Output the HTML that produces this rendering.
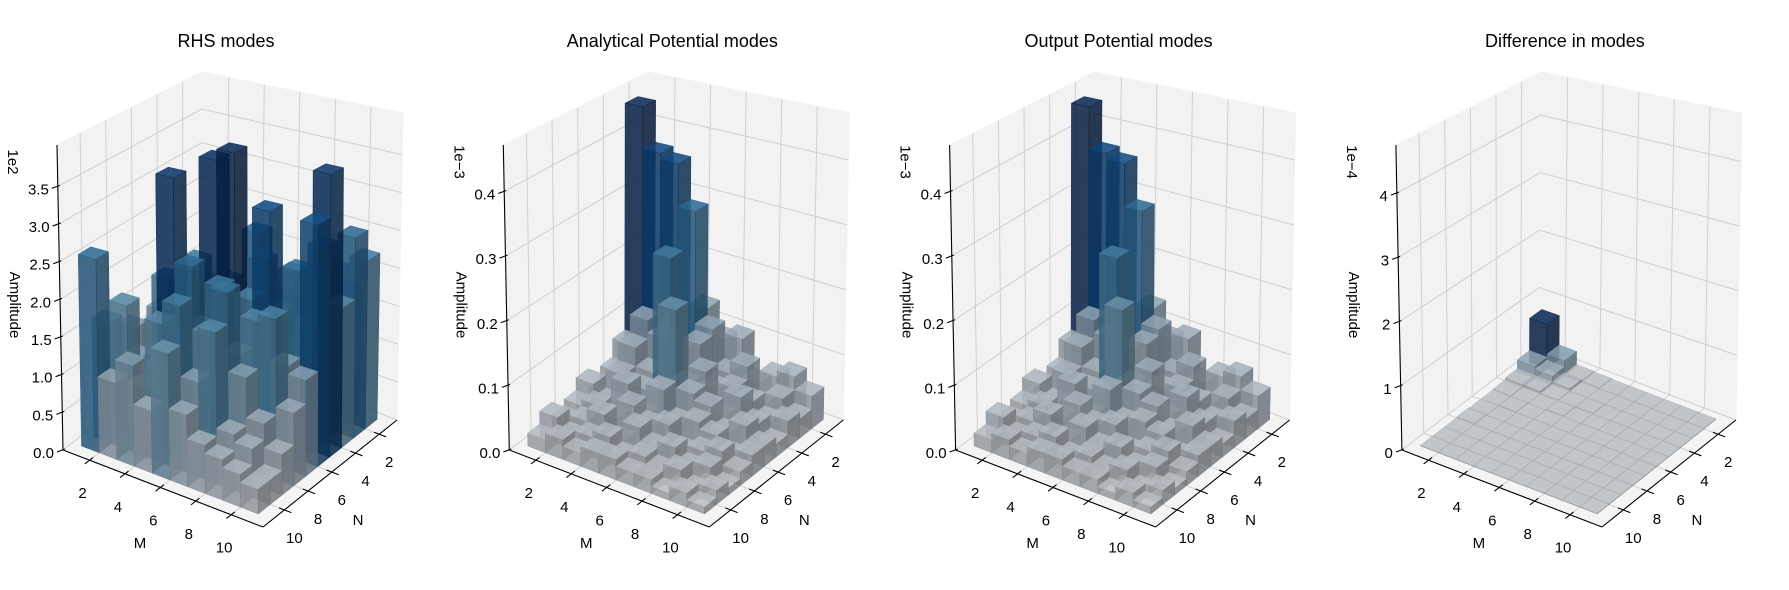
<!DOCTYPE html>
<html><head><meta charset="utf-8">
<style>
body{margin:0;background:#fff;}
svg{display:block;font-family:"Liberation Sans","DejaVu Sans",sans-serif;}
</style></head>
<body>
<svg id="fig" width="1789" height="590" viewBox="0 0 1789 590" xmlns="http://www.w3.org/2000/svg"></svg>
<script>
const mCats=[1,2,3,4,5,6,7,8,9,10];
const nCats=[1,2,3,4,5,6,7,8,9,10];
const axisTicks=[2,4,6,8,10];
const titles=["RHS modes","Analytical Potential modes","Output Potential modes","Difference in modes"];
const scaleLabels=["1e2","1e\u22123","1e\u22123","1e\u22124"];
const zMaxes=[4.05,0.472,0.472,4.75];
const zTicks1=[0,0.5,1,1.5,2,2.5,3,3.5];
const zTickLabels1=["0.0","0.5","1.0","1.5","2.0","2.5","3.0","3.5"];
const zTicks2=[0,0.1,0.2,0.3,0.4];
const zTickLabels2=["0.0","0.1","0.2","0.3","0.4"];
const zTicks4=[0,1,2,3,4];
const zTickLabels4=["0","1","2","3","4"];
// values[m][n]
const rhsVals=[
[1.2,0.9,1.5,0.8,1.1,0.7,1.3,0.9,1.6,2.55],
[0.8,1.4,0.6,1.2,0.9,1.5,0.7,1.1,1.9,1.0],
[1.1,0.7,1.3,0.9,1.6,0.8,2.1,1.0,0.9,1.3],
[0.9,1.2,0.8,1.5,1.0,2.3,1.2,3.6,1.8,0.8],
[1.3,0.8,1.4,1.1,2.0,3.7,1.6,2.5,2.1,1.6],
[0.7,1.5,1.0,2.6,1.3,3.85,2.2,1.7,1.2,0.9],
[1.4,0.9,1.7,1.2,2.4,2.0,1.4,2.3,1.9,0.6],
[1.0,1.6,1.2,2.2,1.8,3.2,1.9,1.3,0.7,0.5],
[1.7,2.1,2.5,1.6,2.4,1.3,2.0,0.8,0.6,0.4],
[2.2,2.6,1.8,3.6,3.05,1.2,0.9,0.5,0.3,0.3]];
const anaVals=[
[0.06,0.45,0.07,0.04,0.02,0.05,0.03,0.02,0.04,0.02],
[0.05,0.38,0.12,0.09,0.06,0.03,0.04,0.03,0.02,0.03],
[0.08,0.37,0.10,0.06,0.05,0.07,0.03,0.05,0.03,0.02],
[0.13,0.30,0.09,0.25,0.05,0.03,0.06,0.02,0.04,0.03],
[0.09,0.12,0.11,0.06,0.19,0.08,0.04,0.05,0.02,0.03],
[0.10,0.06,0.05,0.09,0.07,0.04,0.05,0.03,0.03,0.02],
[0.04,0.08,0.06,0.03,0.06,0.05,0.02,0.04,0.02,0.02],
[0.06,0.03,0.05,0.07,0.03,0.04,0.03,0.02,0.03,0.01],
[0.07,0.05,0.03,0.04,0.05,0.02,0.04,0.03,0.01,0.02],
[0.05,0.03,0.04,0.02,0.03,0.03,0.02,0.01,0.02,0.01]];
const outVals=[
[0.06,0.45,0.07,0.04,0.02,0.05,0.03,0.02,0.04,0.02],
[0.05,0.38,0.12,0.09,0.06,0.03,0.04,0.03,0.02,0.03],
[0.08,0.37,0.10,0.06,0.05,0.07,0.03,0.05,0.03,0.02],
[0.13,0.30,0.09,0.25,0.05,0.03,0.06,0.02,0.04,0.03],
[0.09,0.12,0.11,0.06,0.19,0.08,0.04,0.05,0.02,0.03],
[0.10,0.06,0.05,0.09,0.07,0.04,0.05,0.03,0.03,0.02],
[0.04,0.08,0.06,0.03,0.06,0.05,0.02,0.04,0.02,0.02],
[0.06,0.03,0.05,0.07,0.03,0.04,0.03,0.02,0.03,0.01],
[0.07,0.05,0.03,0.04,0.05,0.02,0.04,0.03,0.01,0.02],
[0.05,0.03,0.04,0.02,0.03,0.03,0.02,0.01,0.02,0.01]];
const diffVals=[
[0.75,0.2,0.05,0.02,0.01,0.01,0.02,0.01,0.01,0.01],
[0.25,0.15,0.05,0.01,0.02,0.01,0.01,0.01,0.01,0.01],
[0.03,0.05,0.02,0.01,0.01,0.01,0.01,0.01,0.01,0.01],
[0.02,0.01,0.01,0.02,0.01,0.01,0.01,0.01,0.01,0.01],
[0.01,0.01,0.02,0.01,0.01,0.01,0.01,0.01,0.01,0.01],
[0.01,0.01,0.01,0.01,0.01,0.01,0.01,0.01,0.01,0.01],
[0.01,0.01,0.01,0.01,0.01,0.01,0.01,0.01,0.01,0.01],
[0.01,0.01,0.01,0.01,0.01,0.01,0.01,0.01,0.01,0.01],
[0.01,0.01,0.01,0.01,0.01,0.01,0.01,0.01,0.01,0.01],
[0.01,0.01,0.01,0.01,0.01,0.01,0.01,0.01,0.01,0.01]];

const NS="http://www.w3.org/2000/svg";
const svg=document.getElementById('fig');
const AX_MIN=0.5, AX_MAX=11.8;
const C={B0:[200,345],R0:[397,420],L0:[63,450],F0:[263,527],B1:[202,72],R1:[403,113],L1:[57,145],F1:[258,186]};
const blues=[[247,251,255],[222,235,247],[198,219,239],[158,202,225],[107,174,214],[66,146,198],[33,113,181],[8,81,156],[8,48,107]];
function cmap(t){t=Math.max(0,Math.min(1,t))*8;const i=Math.min(7,Math.floor(t)),f=t-i;return blues[i].map((c,k)=>c+(blues[i+1][k]-c)*f);}
function el(tag,attrs,parent){const e=document.createElementNS(NS,tag);for(const k in attrs)e.setAttribute(k,attrs[k]);(parent||svg).appendChild(e);return e;}
function bil(a,b,c,d,u,v){
 return [a[0]*(1-u)*(1-v)+b[0]*u*(1-v)+c[0]*(1-u)*v+d[0]*u*v, a[1]*(1-u)*(1-v)+b[1]*u*(1-v)+c[1]*(1-u)*v+d[1]*u*v];}
function makeProj(dx,zmax){
 return function(M,N,Z){const u=(M-AX_MIN)/(AX_MAX-AX_MIN),v=(N-AX_MIN)/(AX_MAX-AX_MIN),w=Z/zmax;
  const p0=bil(C.B0,C.R0,C.L0,C.F0,u,v),p1=bil(C.B1,C.R1,C.L1,C.F1,u,v);
  return [p0[0]+(p1[0]-p0[0])*w+dx,p0[1]+(p1[1]-p0[1])*w];};}
function pts(arr){return arr.map(p=>p[0].toFixed(1)+','+p[1].toFixed(1)).join(' ');}

const panels=[
 {vals:rhsVals,zt:zTicks1,zl:zTickLabels1},
 {vals:anaVals,zt:zTicks2,zl:zTickLabels2},
 {vals:outVals,zt:zTicks2,zl:zTickLabels2},
 {vals:diffVals,zt:zTicks4,zl:zTickLabels4}];

panels.forEach((pd,pi)=>{
 const dx=pi*446.3, zmax=zMaxes[pi], P=makeProj(dx,zmax);
 const g=el('g',{});
 
 
 const t=el('text',{x:226+dx,y:47,'text-anchor':'middle','font-size':18,fill:'#000'},g);
 t.textContent=titles[pi];
 
 
 const A=AX_MIN,Bm=AX_MAX;
 const paneL=el('polygon',{points:pts([P(A,A,0),P(A,Bm,0),P(A,Bm,zmax),P(A,A,zmax)]),fill:'#f2f2f2',stroke:'#f2f2f2'},g);
 
 const paneR=el('polygon',{points:pts([P(A,A,0),P(Bm,A,0),P(Bm,A,zmax),P(A,A,zmax)]),fill:'#f2f2f2',stroke:'#f2f2f2'},g);
 
 const paneF=el('polygon',{points:pts([P(A,A,0),P(Bm,A,0),P(Bm,Bm,0),P(A,Bm,0)]),fill:'#f4f4f4',stroke:'#f4f4f4'},g);
 
 const gg=el('g',{stroke:'#cfcfcf','stroke-width':1,fill:'none'},g);
 
 axisTicks.forEach(tk=>{
  el('line',{x1:P(A,tk,0)[0],y1:P(A,tk,0)[1],x2:P(A,tk,zmax)[0],y2:P(A,tk,zmax)[1]},gg);
  el('line',{x1:P(tk,A,0)[0],y1:P(tk,A,0)[1],x2:P(tk,A,zmax)[0],y2:P(tk,A,zmax)[1]},gg);
  el('line',{x1:P(tk,A,0)[0],y1:P(tk,A,0)[1],x2:P(tk,Bm,0)[0],y2:P(tk,Bm,0)[1]},gg);
  el('line',{x1:P(A,tk,0)[0],y1:P(A,tk,0)[1],x2:P(Bm,tk,0)[0],y2:P(Bm,tk,0)[1]},gg);
 });
 pd.zt.forEach(z=>{
  el('line',{x1:P(A,Bm,z)[0],y1:P(A,Bm,z)[1],x2:P(A,A,z)[0],y2:P(A,A,z)[1]},gg);
  el('line',{x1:P(A,A,z)[0],y1:P(A,A,z)[1],x2:P(Bm,A,z)[0],y2:P(Bm,A,z)[1]},gg);
 });
 let maxv=0;pd.vals.forEach(r=>r.forEach(v=>{if(v>maxv)maxv=v;}));
 const order=[];mCats.forEach((m,i)=>nCats.forEach((n,j)=>order.push([m,n,pd.vals[i][j]])));
 order.sort((a,b)=>(a[0]+a[1])-(b[0]+b[1])||a[0]-b[0]);
 const bg=el('g',{},g);
 
 order.forEach(([m,n,h])=>{
  const c=cmap(h/maxv);
  const sh=(k)=>'rgb('+c.map(x=>Math.round(x*k)).join(',')+')';
  const bar=el('g',{'fill-opacity':0.85},bg);
  
  
  el('polygon',{points:pts([P(m,n+1,0),P(m+1,n+1,0),P(m+1,n+1,h),P(m,n+1,h)]),fill:sh(0.62),stroke:sh(0.58),'stroke-width':0.4},bar);
  el('polygon',{points:pts([P(m+1,n,0),P(m+1,n+1,0),P(m+1,n+1,h),P(m+1,n,h)]),fill:sh(0.5),stroke:sh(0.47),'stroke-width':0.4},bar);
  el('polygon',{points:pts([P(m,n,h),P(m+1,n,h),P(m+1,n+1,h),P(m,n+1,h)]),fill:sh(0.76),stroke:sh(0.7),'stroke-width':0.4},bar);
 });
 const ax=el('g',{stroke:'#000','stroke-width':1.1,fill:'none'},g);
 
 let p=P(A,Bm,0),q=P(Bm,Bm,0),r=P(Bm,A,0),s=P(A,Bm,zmax);
 el('line',{x1:p[0],y1:p[1],x2:q[0],y2:q[1]},ax);
 el('line',{x1:q[0],y1:q[1],x2:r[0],y2:r[1]},ax);
 el('line',{x1:p[0],y1:p[1],x2:s[0],y2:s[1]},ax);
 const lab=el('g',{'font-size':15,fill:'#000'},g);
 
 axisTicks.forEach(tk=>{
  const a=P(tk,Bm-0.3,0),b=P(tk,Bm+0.4,0);
  el('line',{x1:a[0],y1:a[1],x2:b[0],y2:b[1]},ax);
  const tx=el('text',{x:P(tk,Bm,0)[0]-7,y:P(tk,Bm,0)[1]+38,'text-anchor':'middle'},lab);
  tx.textContent=tk;
  const c1=P(Bm-0.3,tk,0),c2=P(Bm+0.4,tk,0);
  el('line',{x1:c1[0],y1:c1[1],x2:c2[0],y2:c2[1]},ax);
  const ty=el('text',{x:P(Bm,tk,0)[0]+10,y:P(Bm,tk,0)[1]+33,'text-anchor':'middle'},lab);
  ty.textContent=tk;
 });
 pd.zt.forEach((z,k)=>{
  const a=P(A,Bm,z);
  el('line',{x1:a[0]-6,y1:a[1]+2,x2:a[0]+2,y2:a[1]-1},ax);
  const tz=el('text',{x:a[0]-9,y:a[1]+8,'text-anchor':'end'},lab);
  tz.textContent=pd.zl[k];
 });
 const ml=el('text',{x:140+dx,y:548,'text-anchor':'middle'},lab);ml.textContent='M';
 
 const nl=el('text',{x:358+dx,y:525,'text-anchor':'middle'},lab);nl.textContent='N';
 
 const zl=el('text',{x:10+dx,y:305,'text-anchor':'middle',transform:'rotate(90 '+(10+dx)+' 305)'},lab);zl.textContent='Amplitude';
 
 const sl=el('text',{x:8+dx,y:162,'text-anchor':'middle',transform:'rotate(90 '+(8+dx)+' 162)'},lab);sl.textContent=scaleLabels[pi];
 
});
</script>
</body></html>
